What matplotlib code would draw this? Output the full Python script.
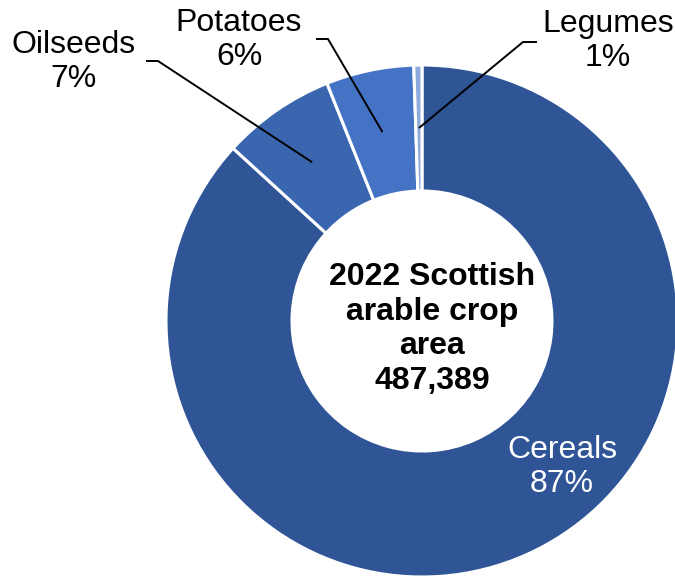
import numpy as np
import matplotlib.pyplot as plt

plt.rcParams['font.family'] = ['Liberation Sans', 'DejaVu Sans']

# 2022 Scottish arable crop area (hectares)
crops = ['Cereals', 'Oilseeds', 'Potatoes', 'Legumes']
area = [422989, 34900, 27000, 2500]
colors = ['#2F5597', '#3A66B0', '#4472C4', '#8FAADC']

# label placement (pixel coords, y down) and the start of each leader line
label_xy = [(562, 467), (74, 62), (239, 40), (608, 41)]
leader_start = [None, (146, 61), (316, 39), (537, 42)]
elbow_len = [0, 12, 12, -14]

W, H = 675, 581
cx, cy = 422, 321
r_out, r_in = 256, 130

fig = plt.figure(figsize=(W / 100, H / 100), dpi=100)
ax = fig.add_axes([0, 0, 1, 1])
ax.axis('off')

ax.pie(area, colors=colors, startangle=90, counterclock=False,
       center=(cx, H - cy), radius=r_out,
       wedgeprops=dict(width=r_out - r_in, edgecolor='white', linewidth=2.2))
ax.set_xlim(0, W)
ax.set_ylim(0, H)
ax.set_aspect('equal')

total = sum(area)
frac = np.array(area) / total
before = np.concatenate([[0], np.cumsum(frac)[:-1]])
mid_angle = np.radians(90 - 360 * (before + frac / 2))
r_mid = (r_out + r_in) / 2

for i, name in enumerate(crops):
    pct = f"{round(frac[i] * 100):.0f}%"
    tx, ty = label_xy[i]
    color = 'white' if i == 0 else 'black'
    ax.text(tx, H - ty, f"{name}\n{pct}", ha='center', va='center',
            fontsize=23, color=color, linespacing=1.2)
    if leader_start[i] is not None:
        sx, sy = leader_start[i]
        ex = cx + r_mid * np.cos(mid_angle[i])
        ey = (H - cy) + r_mid * np.sin(mid_angle[i])
        ax.plot([sx, sx + elbow_len[i], ex], [H - sy, H - sy, ey],
                color='black', lw=1.4, solid_capstyle='butt')

ax.text(432, H - 329, f"2022 Scottish\narable crop\narea\n{total:,}",
        ha='center', va='center', fontsize=23, fontweight='bold',
        linespacing=1.2)

fig.savefig('out.png', dpi=100)
